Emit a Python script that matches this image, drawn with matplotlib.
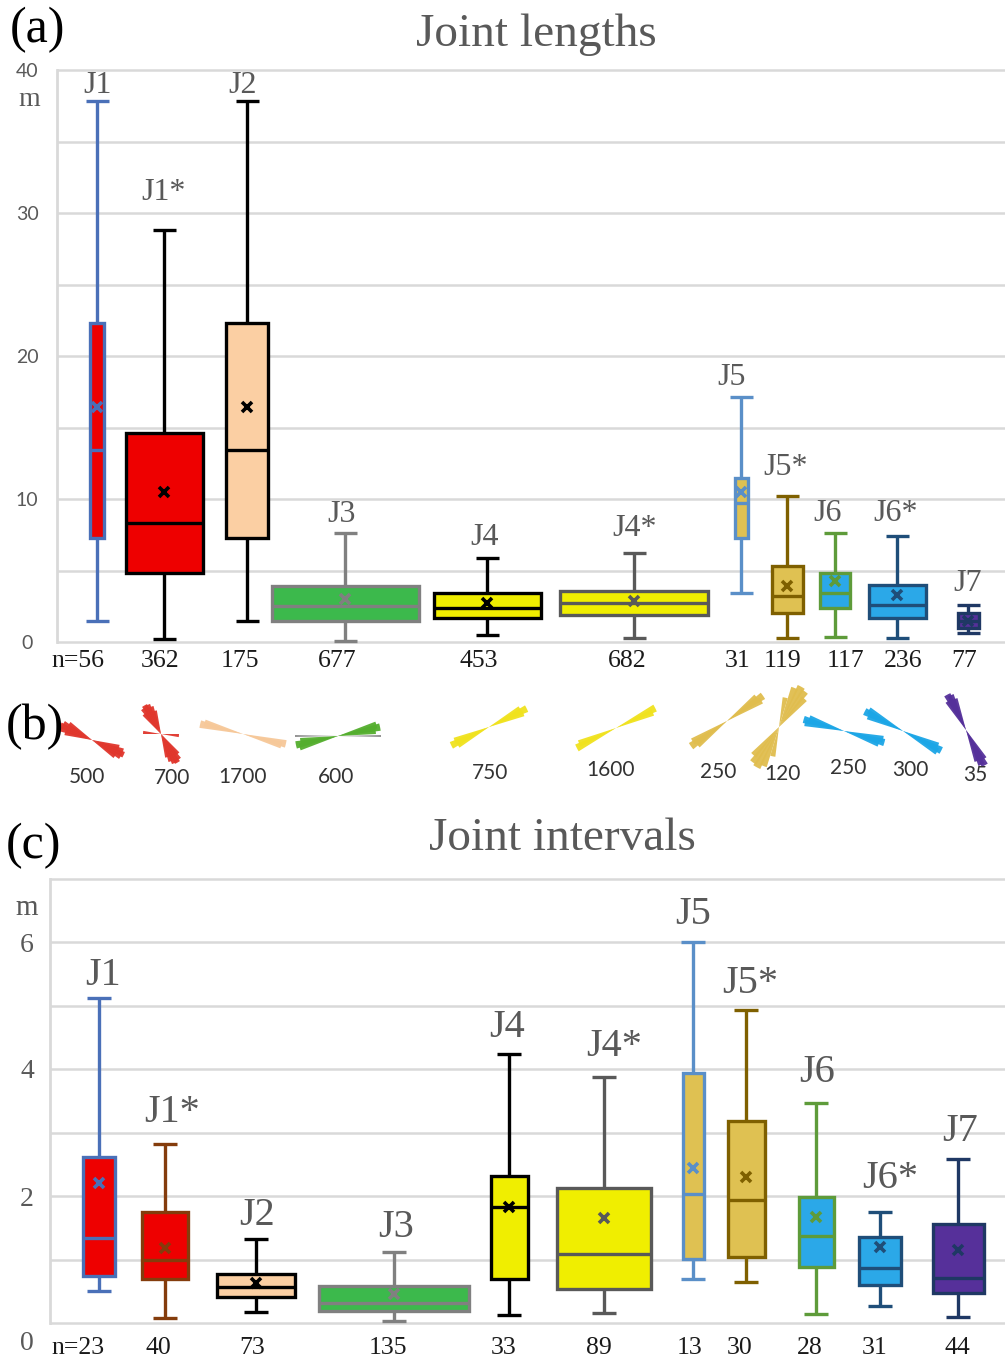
import matplotlib
matplotlib.use('Agg')
import matplotlib.pyplot as plt
import numpy as np

W, H = 1005, 1362
DPI = 100
SERIF = 'Liberation Serif'
SANS = 'Lato'

# ---------------- data ----------------
names = ['J1', 'J1*', 'J2', 'J3', 'J4', 'J4*', 'J5', 'J5*', 'J6', 'J6*', 'J7']

# (a) joint lengths [m]
len_whislo = [1.5, 0.2, 1.5, 0.1, 0.5, 0.3, 3.4, 0.3, 0.35, 0.3, 0.6]
len_q1 = [7.3, 4.8, 7.3, 1.5, 1.7, 1.9, 7.3, 2.0, 2.4, 1.7, 1.0]
len_med = [13.4, 8.3, 13.4, 2.5, 2.4, 2.7, 9.7, 3.2, 3.4, 2.6, 1.45]
len_mean = [16.4, 10.5, 16.4, 3.0, 2.7, 2.9, 10.5, 3.9, 4.3, 3.3, 1.5]
len_q3 = [22.3, 14.6, 22.3, 3.9, 3.4, 3.6, 11.5, 5.3, 4.8, 4.0, 2.0]
len_whishi = [37.8, 28.8, 37.8, 7.6, 5.9, 6.2, 17.1, 10.2, 7.6, 7.4, 2.6]
len_n = ['n=56', '362', '175', '677', '453', '682', '31', '119', '117', '236', '77']

# (c) joint intervals [m]
int_whislo = [0.5, 0.08, 0.17, 0.03, 0.13, 0.15, 0.69, 0.65, 0.14, 0.27, 0.09]
int_q1 = [0.74, 0.69, 0.41, 0.19, 0.69, 0.53, 1.01, 1.04, 0.88, 0.60, 0.47]
int_med = [1.34, 1.0, 0.57, 0.32, 1.83, 1.09, 2.03, 1.94, 1.37, 0.87, 0.71]
int_mean = [2.2, 1.18, 0.63, 0.46, 1.83, 1.65, 2.44, 2.3, 1.67, 1.2, 1.15]
int_q3 = [2.61, 1.75, 0.77, 0.58, 2.32, 2.12, 3.93, 3.18, 1.98, 1.36, 1.56]
int_whishi = [5.12, 2.82, 1.33, 1.12, 4.24, 3.88, 6.0, 4.93, 3.46, 1.75, 2.58]
int_n = ['n=23', '40', '73', '135', '33', '89', '13', '30', '28', '31', '44']

# (b) rose diagrams: number of measurements, petal bearings (deg) and relative lengths
rose_counts = ['500', '700', '1700', '600', '750', '1600', '250', '120', '250', '300', '35']
rose_angles = [[105, 110, 115, 120, 125], [95, 140, 145, 150, 155, 160, 165], [103, 106],
               [74, 78, 82], [60, 64, 68], [63, 67], [51, 55, 59], [12, 22, 29, 36, 42],
               [102, 106, 110], [113, 117, 121], [148, 152, 156, 160]]
rose_lengths = [[28, 33, 35, 33, 28], [18, 26, 31, 33, 32, 29, 24], [44, 40],
                [40, 43, 38], [36, 42, 37], [44, 40], [38, 44, 40], [30, 42, 46, 44, 38],
                [40, 42, 37], [38, 43, 40], [34, 40, 38, 33]]

# ---------------- styles / layout ----------------
fill_colors = ['#EE0000', '#EE0000', '#FBCFA3', '#3CB94C', '#F0EE00', '#F0EE00',
               '#DFC152', '#DFC152', '#2BA8E8', '#2BA8E8', '#56309A']
edge_a = ['#4A70B8', '#000000', '#000000', '#808080', '#000000', '#595959',
          '#5A8FC8', '#7F6000', '#5E9B3A', '#1F4E79', '#1F3864']
edge_c = ['#4A70B8', '#843C0C', '#000000', '#808080', '#000000', '#595959',
          '#5A8FC8', '#7F6000', '#5E9B3A', '#1F4E79', '#1F3864']
rose_colors = ['#E0362C', '#E0362C', '#F6C899', '#54AE2E', '#F0E21E', '#F0E21E',
               '#E0BD4E', '#E0BD4E', '#1CA6E6', '#1CA6E6', '#55309A']

pos_a = [97, 164, 247, 345, 487, 634, 741, 787, 835, 897, 968]
wid_a = [14, 77, 42, 147, 107, 148, 13, 31, 30, 57, 21]
lab_a = [(97, 38.9), (163, 31.4), (243, 38.95), (342, 8.95), (485, 7.34), (635, 7.97),
         (732, 18.5), (786, 12.17), (828, 9.02), (896, 9.02), (968, 4.06)]
nx_a = [78, 160, 240, 337, 479, 627, 738, 782, 845, 903, 964]

pos_c = [99, 165, 256, 394, 509, 604, 693, 746, 816, 880, 958]
wid_c = [32, 46, 78, 150, 37, 94, 21, 37, 35, 42, 51]
lab_c = [(103, 5.48), (172, 3.31), (257, 1.70), (396, 1.50), (507, 4.65), (614, 4.35),
         (693, 6.43), (750, 5.34), (817, 3.94), (890, 2.28), (960, 3.01)]
nx_c = [78, 158, 252, 388, 504, 599, 690, 740, 810, 875, 957]

rose_centers = [(92, 740), (161, 734), (243, 734), (338, 736), (489, 727), (616, 728),
                (727, 721), (779, 727), (844, 731), (903, 731), (966, 730)]
rose_label_pos = [(87, 777), (172, 778), (243, 777), (336, 777), (490, 773), (611, 770),
                  (718, 772), (782, 774), (848, 768), (910, 770), (975, 775)]

GRID = '#D9D9D9'
GREY_TXT = '#595959'

fig = plt.figure(figsize=(W / DPI, H / DPI), dpi=DPI)
fig.patch.set_facecolor('white')


def fig_text(xpx, ypx, s, **kw):
    kw.setdefault('ha', 'center')
    kw.setdefault('va', 'center')
    fig.text(xpx / W, 1 - ypx / H, s, **kw)


def make_panel(x0px, x1px, y0px, scale, ylo, yhi):
    bottom = (H - (y0px - ylo * scale)) / H
    top = (H - (y0px - yhi * scale)) / H
    ax = fig.add_axes([x0px / W, bottom, (x1px - x0px) / W, top - bottom])
    ax.set_xlim(x0px, x1px)
    ax.set_ylim(ylo, yhi)
    for s in ['top', 'right', 'bottom']:
        ax.spines[s].set_visible(False)
    ax.spines['left'].set_color(GRID)
    ax.spines['left'].set_linewidth(2)
    ax.set_xticks([])
    ax.set_axisbelow(True)
    return ax


def draw_boxes(ax, whislo, q1, med, mean, q3, whishi, pos, wid, edges, capw):
    stats = []
    for i in range(len(names)):
        stats.append(dict(med=med[i], q1=q1[i], q3=q3[i], whislo=whislo[i],
                          whishi=whishi[i], mean=mean[i], fliers=[], label=names[i]))
    art = ax.bxp(stats, positions=pos, widths=wid, patch_artist=True, showmeans=True,
                 showfliers=False, capwidths=capw, manage_ticks=False)
    for i in range(len(names)):
        ec = edges[i]
        art['boxes'][i].set(facecolor=fill_colors[i], edgecolor=ec, linewidth=2.4, zorder=3)
        for ln in art['whiskers'][2 * i:2 * i + 2] + art['caps'][2 * i:2 * i + 2]:
            ln.set(color=ec, linewidth=2.4, solid_capstyle='butt', zorder=2)
        art['medians'][i].set(color=ec, linewidth=2.4, zorder=4)
        art['means'][i].set(marker='x', markeredgecolor=ec, markerfacecolor=ec,
                            markersize=7, markeredgewidth=2.6, zorder=5)


# ---------------- panel (a) ----------------
axa = make_panel(57, 1005, 642, 14.3, -0.15, 40.2)
axa.set_yticks([0, 10, 20, 30, 40])
axa.set_yticks([5, 15, 25, 35], minor=True)
axa.yaxis.grid(True, which='both', color=GRID, linewidth=1.8)
axa.spines['left'].set_bounds(0, 40)
axa.tick_params(axis='y', which='both', length=0, pad=21.6, labelsize=14, labelcolor=GREY_TXT)
for lab in axa.get_yticklabels():
    lab.set_ha('center')
    lab.set_fontfamily(SANS)
draw_boxes(axa, len_whislo, len_q1, len_med, len_mean, len_q3, len_whishi,
           pos_a, wid_a, edge_a, 23)
for i, (x, y) in enumerate(lab_a):
    axa.text(x, y, names[i], ha='center', va='center', fontsize=23, color=GREY_TXT,
             family=SERIF, clip_on=False)
for i, x in enumerate(nx_a):
    axa.text(x, -1.33, len_n[i], ha='center', va='center', fontsize=18.5, color='#1A1A1A',
             family=SERIF, clip_on=False)
fig_text(29, 100, 'm', fontsize=20, color=GREY_TXT, family=SERIF)
fig_text(536, 35, 'Joint lengths', fontsize=34, color=GREY_TXT, family=SERIF)
fig_text(37, 30, '(a)', fontsize=36, color='black', family=SERIF)

# ---------------- panel (c) ----------------
axc = make_panel(50, 1005, 1323, 63.5, -0.04, 7.04)
axc.set_yticks([2, 4, 6])
axc.set_yticks([0, 1, 3, 5, 7], minor=True)
axc.yaxis.grid(True, which='both', color=GRID, linewidth=1.8)
axc.spines['left'].set_bounds(0, 7)
axc.tick_params(axis='y', which='both', length=0, pad=16.6, labelsize=20, labelcolor=GREY_TXT)
for lab in axc.get_yticklabels():
    lab.set_ha('center')
    lab.set_fontfamily(SERIF)
draw_boxes(axc, int_whislo, int_q1, int_med, int_mean, int_q3, int_whishi,
           pos_c, wid_c, edge_c, 24)
for i, (x, y) in enumerate(lab_c):
    axc.text(x, y, names[i], ha='center', va='center', fontsize=29, color=GREY_TXT,
             family=SERIF, clip_on=False)
for i, x in enumerate(nx_c):
    axc.text(x, -0.39, int_n[i], ha='center', va='center', fontsize=18.5, color='#1A1A1A',
             family=SERIF, clip_on=False)
fig_text(27, 1343, '0', fontsize=20, color=GREY_TXT, family=SERIF)
fig_text(27, 908, 'm', fontsize=21, color=GREY_TXT, family=SERIF)
fig_text(562, 839, 'Joint intervals', fontsize=34, color=GREY_TXT, family=SERIF)
fig_text(33, 846, '(c)', fontsize=36, color='black', family=SERIF)

# ---------------- panel (b): rose diagrams ----------------
R = 52
for k, (cx, cy) in enumerate(rose_centers):
    axr = fig.add_axes([(cx - R) / W, (H - cy - R) / H, 2 * R / W, 2 * R / H], projection='polar')
    axr.set_theta_zero_location('N')
    axr.set_theta_direction(-1)
    axr.axis('off')
    axr.set_ylim(0, R)
    angs = np.radians(rose_angles[k])
    lens = rose_lengths[k]
    if k == 3:
        for t in (np.pi / 2, 3 * np.pi / 2):
            axr.bar(t, 43, width=np.radians(2.5), bottom=0, color='#8C8C8C', linewidth=0)
    for a, L in zip(angs, lens):
        for t in (a, a + np.pi):
            axr.bar(t, L, width=np.radians(10), bottom=0, color=rose_colors[k],
                    alpha=0.95, linewidth=0)
for k, (x, y) in enumerate(rose_label_pos):
    fig_text(x, y, rose_counts[k], fontsize=15, color='#333333', family=SANS)
fig_text(35, 727, '(b)', fontsize=36, color='black', family=SERIF, zorder=10)

fig.savefig('out.png', dpi=DPI, facecolor='white')
